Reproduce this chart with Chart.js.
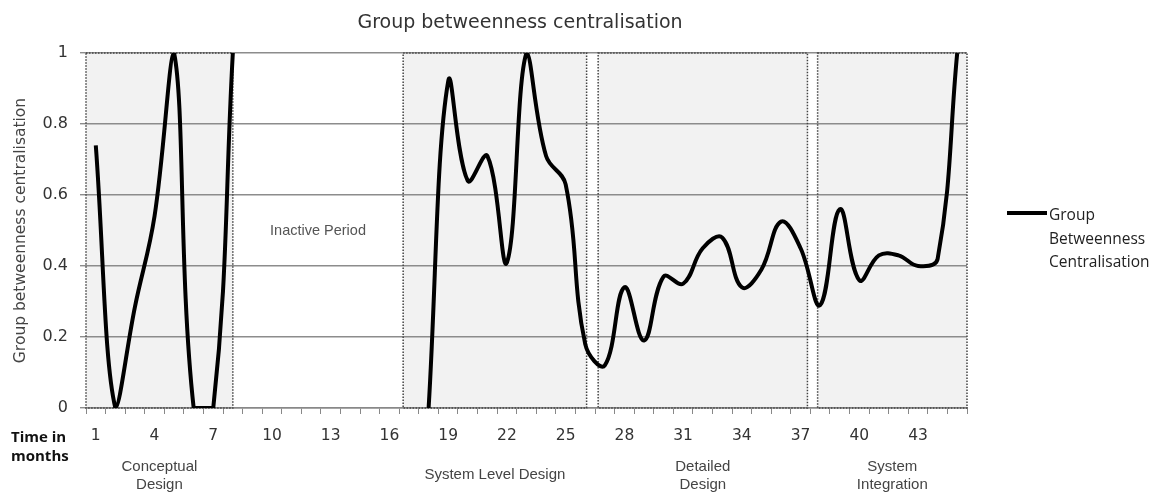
<!DOCTYPE html>
<html lang="en">
<head>
    <meta charset="UTF-8">
    <title>Group betweenness centralisation</title>
    <script src="https://cdn.jsdelivr.net/npm/chart.js"></script>
    <style>
        html, body { margin: 0; padding: 0; background: #fff; }
        #wrap { width: 1163px; height: 492px; }
    </style>
</head>
<body>
    <div id="wrap"><canvas id="gbcChart" width="1163" height="492"></canvas></div>

    <script>
        // Months 1..45
        const months = [1, 2, 3, 4, 5, 6, 7, 8, 9, 10, 11, 12, 13, 14, 15, 16, 17, 18, 19, 20,
            21, 22, 23, 24, 25, 26, 27, 28, 29, 30, 31, 32, 33, 34, 35, 36, 37, 38, 39, 40,
            41, 42, 43, 44, 45];

        // Group betweenness centralisation per month (null = inactive)
        const centralisation = [0.74, 0, 0.285, 0.54, 1.0, 0, 0, 1.0,
            null, null, null, null, null, null, null, null, null,
            0, 0.92, 0.64, 0.71, 0.41, 1.0, 0.71, 0.63, 0.18, 0.12,
            0.34, 0.19, 0.37, 0.35, 0.45, 0.48, 0.34, 0.39, 0.525, 0.45,
            0.29, 0.56, 0.36, 0.43, 0.43, 0.40, 0.42, 1.0];

        const yTicks = [0, 0.2, 0.4, 0.6, 0.8, 1];

        // project phases, start/end in months
        const phaseNames = [['Conceptual', 'Design'], ['System Level Design'], ['Detailed', 'Design'], ['System', 'Integration']];
        const phaseStart = [0.5, 16.7, 26.66, 37.87];
        const phaseEnd = [8, 26.07, 37.35, 45.5];

        const inactiveLabel = 'Inactive Period';
        const inactiveAt = [12.35, 0.5];

        const chartTitle = 'Group betweenness centralisation';
        const seriesName = ['Group', 'Betweenness', 'Centralisation'];

        // month value -> category index
        const mIdx = m => m - 1;

        const phasePlugin = {
            id: 'phases',
            beforeDraw(chart) {
                const { ctx, scales: { x, y } } = chart;
                ctx.save();
                ctx.fillStyle = '#f2f2f2';
                phaseStart.forEach((s, i) => {
                    const x0 = x.getPixelForValue(mIdx(s));
                    const x1 = x.getPixelForValue(mIdx(phaseEnd[i]));
                    ctx.fillRect(x0, y.getPixelForValue(1), x1 - x0, y.getPixelForValue(0) - y.getPixelForValue(1));
                });
                ctx.restore();
            },
            beforeDatasetsDraw(chart) {
                const { ctx, scales: { x, y } } = chart;
                ctx.save();
                ctx.strokeStyle = '#444';
                ctx.lineWidth = 1.5;
                ctx.setLineDash([1.5, 1.5]);
                phaseStart.forEach((s, i) => {
                    const x0 = x.getPixelForValue(mIdx(s));
                    const x1 = x.getPixelForValue(mIdx(phaseEnd[i]));
                    ctx.strokeRect(x0, y.getPixelForValue(1), x1 - x0, y.getPixelForValue(0) - y.getPixelForValue(1));
                });
                ctx.setLineDash([]);

                // inactive label
                ctx.fillStyle = '#555';
                ctx.font = '14.5px "Liberation Sans", Arial, sans-serif';
                ctx.textAlign = 'center';
                ctx.textBaseline = 'middle';
                ctx.fillText(inactiveLabel, x.getPixelForValue(mIdx(inactiveAt[0])), y.getPixelForValue(inactiveAt[1]));
                ctx.restore();
            },
            afterDraw(chart) {
                const { ctx, scales: { x } } = chart;
                ctx.save();
                ctx.textBaseline = 'middle';

                // title
                ctx.fillStyle = '#333';
                ctx.font = '19px "DejaVu Sans", sans-serif';
                ctx.textAlign = 'center';
                ctx.fillText(chartTitle, 520, 23);

                // phase names under the axis
                ctx.fillStyle = '#444';
                ctx.font = '15px "Liberation Sans", Arial, sans-serif';
                phaseNames.forEach((lines, i) => {
                    const cx = x.getPixelForValue(mIdx((phaseStart[i] + phaseEnd[i]) / 2));
                    const top = lines.length > 1 ? 467 : 475;
                    lines.forEach((t, j) => ctx.fillText(t, cx, top + j * 17.5));
                });

                // x axis caption
                ctx.fillStyle = '#111';
                ctx.font = 'bold 15px "Open Sans", sans-serif';
                ctx.textAlign = 'left';
                ctx.fillText('Time in', 11, 438);
                ctx.fillText('months', 11, 457);

                // legend
                const lx = 1007, ly = 213;
                ctx.strokeStyle = '#000';
                ctx.lineWidth = 4;
                ctx.beginPath();
                ctx.moveTo(lx, ly);
                ctx.lineTo(lx + 40, ly);
                ctx.stroke();
                ctx.fillStyle = '#222';
                ctx.font = '15.5px "Open Sans", sans-serif';
                seriesName.forEach((t, j) => ctx.fillText(t, lx + 42, ly + 3 + j * 23.5));
                ctx.restore();
            }
        };

        document.addEventListener('DOMContentLoaded', () => {
            const ctx = document.getElementById('gbcChart').getContext('2d');
            new Chart(ctx, {
                type: 'line',
                data: {
                    labels: months,
                    datasets: [{
                        label: 'Group Betweenness Centralisation',
                        data: centralisation,
                        borderColor: '#000',
                        borderWidth: 4,
                        tension: 0.4,
                        pointRadius: 0,
                        spanGaps: false,
                        fill: false
                    }]
                },
                options: {
                    responsive: false,
                    animation: false,
                    devicePixelRatio: 1,
                    layout: { padding: { left: 0, right: 196, top: 53, bottom: 0 } },
                    plugins: {
                        legend: { display: false },
                        tooltip: { enabled: false },
                        title: { display: false }
                    },
                    scales: {
                        x: {
                            offset: true,
                            grid: {
                                offset: true,
                                drawOnChartArea: false,
                                tickLength: 6,
                                color: '#888'
                            },
                            border: { display: true, color: '#888', width: 1.5 },
                            ticks: {
                                autoSkip: false,
                                maxRotation: 0,
                                padding: 13,
                                color: '#333',
                                font: { family: '"DejaVu Sans", sans-serif', size: 15.5 },
                                callback: (v, i) => (i % 3 === 0 ? String(months[i]) : '')
                            },
                            afterFit: s => { s.height = 84; }
                        },
                        y: {
                            min: 0,
                            max: 1,
                            afterBuildTicks: s => { s.ticks = yTicks.map(v => ({ value: v })); },
                            grid: { color: '#8c8c8c', lineWidth: 1.4, tickLength: 6 },
                            border: { display: false },
                            ticks: {
                                padding: 12,
                                color: '#333',
                                font: { family: '"DejaVu Sans", sans-serif', size: 16 },
                                callback: v => String(v)
                            },
                            title: {
                                display: true,
                                text: 'Group betweenness centralisation',
                                color: '#444',
                                font: { family: '"DejaVu Sans", sans-serif', size: 15.5 },
                                padding: { top: 12, bottom: 0 }
                            },
                            afterFit: s => { s.width = 86; }
                        }
                    }
                },
                plugins: [phasePlugin]
            });
        });
    </script>
</body>
</html>
